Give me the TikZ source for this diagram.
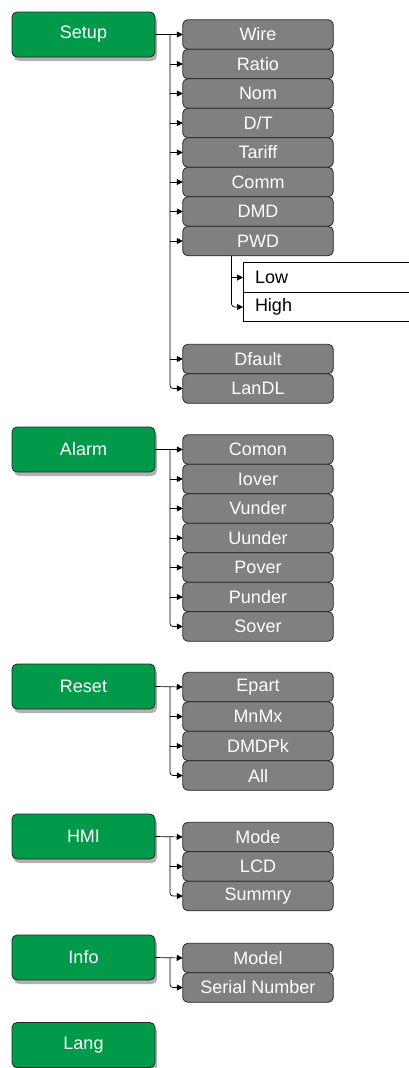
\documentclass[tikz,border=0pt]{standalone}
\usepackage{fontspec}
\setmainfont{Liberation Sans}
\usetikzlibrary{positioning,shadows,arrows.meta}

\definecolor{menugreen}{RGB}{0,154,74}
\definecolor{itemgray}{RGB}{128,128,128}
\definecolor{edgegray}{RGB}{38,38,38}

\tikzset{
  menufont/.style={font=\fontsize{18}{20}\selectfont},
  mainbox/.style={draw=edgegray, fill=menugreen, rounded corners=5pt, line width=0.8pt,
    minimum width=143pt, minimum height=45pt, inner sep=0pt, outer sep=0pt,
    text=white, menufont,
    drop shadow={shadow xshift=2pt, shadow yshift=-4pt, opacity=0.3, fill=black}},
  itembox/.style={draw=edgegray, fill=itemgray, rounded corners=5pt, line width=0.8pt,
    minimum width=150.5pt, minimum height=29.5pt, inner sep=0pt, outer sep=0pt,
    text=white, menufont},
  subbox/.style={draw=black, fill=white, line width=0.6pt, text width=156pt,
    inner xsep=12pt, inner ysep=0pt, minimum height=29.5pt, outer sep=0pt,
    align=left, menufont},
  link/.style={draw=black, line width=0.7pt, -{Triangle[length=6pt,width=6pt]}},
  node distance=0pt
}

\begin{document}
\begin{tikzpicture}[x=1pt, y=-1pt]
        \useasboundingbox (0,0) rectangle (409,1068);
        % Setup
        \node[mainbox] (setup)  at (83.5,34.5)          {Setup};
        \node[itembox] (wire)   at (258,34.5)           {Wire};
        \node[itembox] (ratio)  [below=of wire]         {Ratio};
        \node[itembox] (nom)    [below=of ratio]        {Nom};
        \node[itembox] (dt)     [below=of nom]          {D/T};
        \node[itembox] (tariff) [below=of dt]           {Tariff};
        \node[itembox] (comm)   [below=of tariff]       {Comm};
        \node[itembox] (dmd)    [below=of comm]         {DMD};
        \node[itembox] (pwd)    [below=of dmd]          {PWD};
        \node[subbox]  (low)    at (333,277.5)          {Low};
        \node[subbox]  (high)   [below=of low]          {High};
        \node[itembox] (dfault) at (258,359)            {Dfault};
        \node[itembox] (landl)  [below=of dfault]       {LanDL};
        \coordinate (sbus) at (170,34.5);
        \coordinate (pbus) at (231.5,0);
        \draw[link] (setup.east) -- (wire.west);
        \draw[link] (sbus |- ratio.west)  -- (ratio.west);
        \draw[link] (sbus |- nom.west)    -- (nom.west);
        \draw[link] (sbus |- dt.west)     -- (dt.west);
        \draw[link] (sbus |- tariff.west) -- (tariff.west);
        \draw[link] (sbus |- comm.west)   -- (comm.west);
        \draw[link] (sbus |- dmd.west)    -- (dmd.west);
        \draw[link] (sbus |- pwd.west)    -- (pwd.west);
        \draw[link] (sbus |- dfault.west) -- (dfault.west);
        \draw[link, rounded corners=3pt] (sbus) |- (landl.west);
        \draw[link] (pbus |- low.west)    -- (low.west);
        \draw[link, rounded corners=3pt] (pwd.south -| pbus) |- (high.west);
        % Alarm
        \node[mainbox] (alarm)  at (83.5,449.5)         {Alarm};
        \node[itembox] (comon)  at (258,449.5)          {Comon};
        \node[itembox] (iover)  [below=of comon]        {Iover};
        \node[itembox] (vunder) [below=of iover]        {Vunder};
        \node[itembox] (uunder) [below=of vunder]       {Uunder};
        \node[itembox] (pover)  [below=of uunder]       {Pover};
        \node[itembox] (punder) [below=of pover]        {Punder};
        \node[itembox] (sover)  [below=of punder]       {Sover};
        \coordinate (abus) at (170,449.5);
        \draw[link] (alarm.east) -- (comon.west);
        \draw[link] (abus |- iover.west)  -- (iover.west);
        \draw[link] (abus |- vunder.west) -- (vunder.west);
        \draw[link] (abus |- uunder.west) -- (uunder.west);
        \draw[link] (abus |- pover.west)  -- (pover.west);
        \draw[link] (abus |- punder.west) -- (punder.west);
        \draw[link, rounded corners=3pt] (abus) |- (sover.west);
        % Reset
        \node[mainbox] (reset)  at (83.5,686.5)         {Reset};
        \node[itembox] (epart)  at (258,687)            {Epart};
        \node[itembox] (mnmx)   [below=of epart]        {MnMx};
        \node[itembox] (dmdpk)  [below=of mnmx]         {DMDPk};
        \node[itembox] (all)    [below=of dmdpk]        {All};
        \coordinate (rbus) at (170,687);
        \draw[link] (reset.east) -- (epart.west);
        \draw[link] (rbus |- mnmx.west)   -- (mnmx.west);
        \draw[link] (rbus |- dmdpk.west)  -- (dmdpk.west);
        \draw[link, rounded corners=3pt] (rbus) |- (all.west);
        % HMI
        \node[mainbox] (hmi)    at (83.5,836.5)         {HMI};
        \node[itembox] (mode)   at (258,837)            {Mode};
        \node[itembox] (lcd)    [below=of mode]         {LCD};
        \node[itembox] (summry) [below=of lcd]          {Summry};
        \coordinate (hbus) at (170,837);
        \draw[link] (hmi.east) -- (mode.west);
        \draw[link] (hbus |- lcd.west)    -- (lcd.west);
        \draw[link, rounded corners=3pt] (hbus) |- (summry.west);
        % Info
        \node[mainbox] (info)   at (83.5,957.5)         {Info};
        \node[itembox] (model)  at (258,958)            {Model};
        \node[itembox] (serial) [below=of model]        {Serial Number};
        \coordinate (ibus) at (170,958);
        \draw[link] (info.east) -- (model.west);
        \draw[link, rounded corners=3pt] (ibus) |- (serial.west);
        % Lang
        \node[mainbox] (lang)   at (83.5,1045)          {Lang};
\end{tikzpicture}
\end{document}
